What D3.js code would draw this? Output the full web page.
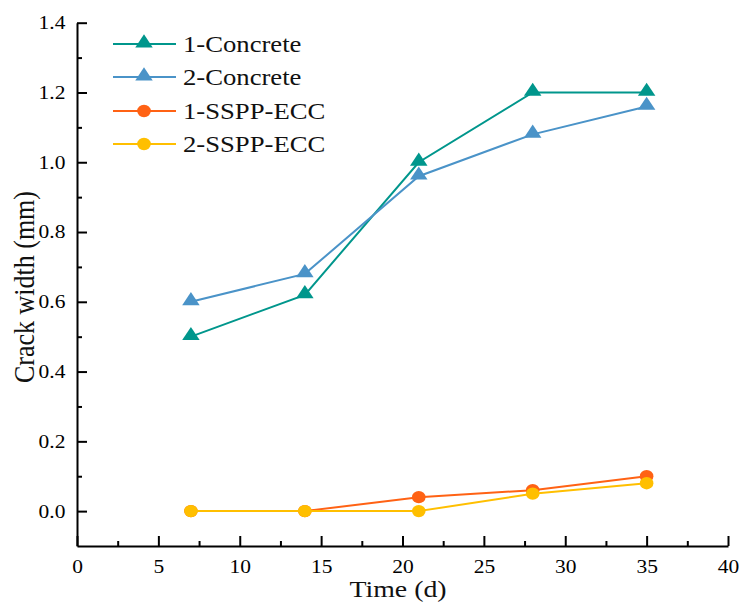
<!DOCTYPE html>
<html>
<head>
<meta charset="utf-8">
<script src="https://cdn.jsdelivr.net/npm/d3@7"></script>
<style>
  body { margin: 0; background: #fff; }
  text { font-family: "Liberation Serif", "Times New Roman", serif; fill: #000; }
</style>
</head>
<body>
<figure id="chart" style="margin:0"></figure>
<script>
// data
const days = [7, 14, 21, 28, 35];
const concrete1 = [0.5, 0.62, 1.0, 1.2, 1.2];
const concrete2 = [0.6, 0.68, 0.96, 1.08, 1.16];
const ecc1 = [0, 0, 0.04, 0.06, 0.1];
const ecc2 = [0, 0, 0, 0.05, 0.08];
const seriesNames = ["1-Concrete", "2-Concrete", "1-SSPP-ECC", "2-SSPP-ECC"];
const seriesColors = ["#00968c", "#4a93c8", "#ff6214", "#ffbf00"];
const seriesShapes = ["triangle", "triangle", "circle", "circle"];
const xTicks = [0, 5, 10, 15, 20, 25, 30, 35, 40];
const yTicks = [0, 0.2, 0.4, 0.6, 0.8, 1.0, 1.2, 1.4];

const W = 739, H = 606;
const plotLeft = 77, plotRight = 728, plotTop = 22.7, plotBottom = 546;
const sx = 1.16; // glyphs in the picture are a bit wide

const svg = d3.select("figure#chart")
  .append("svg")
  .attr("width", W)
  .attr("height", H);

const x = d3.scaleLinear().domain([0, 40]).range([plotLeft, plotRight]);
const y = d3.scaleLinear().domain([-0.1, 1.4]).range([plotBottom, plotTop]);

// minor ticks
svg.append("g")
  .attr("transform", "translate(0," + plotBottom + ")")
  .call(d3.axisBottom(x).tickValues(d3.range(2.5, 40, 5)).tickSize(-5).tickFormat(""))
  .call(g => g.select(".domain").remove());
svg.append("g")
  .attr("transform", "translate(" + plotLeft + ",0)")
  .call(d3.axisLeft(y).tickValues(d3.range(1, 14, 2).map(d => d / 10)).tickSize(-5).tickFormat(""))
  .call(g => g.select(".domain").remove());

// major ticks
const xAxis = svg.append("g")
  .attr("transform", "translate(0," + plotBottom + ")")
  .call(d3.axisBottom(x).tickValues(xTicks).tickSize(-10).tickSizeOuter(0).tickPadding(14).tickFormat(d3.format("d")));
const yAxis = svg.append("g")
  .attr("transform", "translate(" + plotLeft + ",0)")
  .call(d3.axisLeft(y).tickValues(yTicks).tickSize(-10).tickSizeOuter(0).tickPadding(10).tickFormat(d3.format(".1f")));

svg.selectAll(".domain, .tick line").attr("stroke", "#000").attr("stroke-width", 2);
svg.selectAll(".tick text")
  .style("font-size", "18.5px")
  .attr("fill", "#111")
  .style("font-family", "'Liberation Serif', serif");
xAxis.selectAll(".tick text").attr("transform", "scale(" + sx + ",1)");
yAxis.selectAll(".tick text").attr("transform", "scale(" + sx + ",1)");

// axis titles
svg.append("text")
  .attr("text-anchor", "middle")
  .attr("transform", "translate(398,597) scale(" + sx + ",1)")
  .style("font-size", "24px")
  .style("fill", "#111")
  .text("Time (d)");

svg.append("text")
  .attr("text-anchor", "middle")
  .attr("transform", "translate(34,287) rotate(-90) scale(1," + sx + ")")
  .style("font-size", "26px")
  .style("fill", "#111")
  .text("Crack width (mm)");

// lines
const allSeries = [concrete1, concrete2, ecc1, ecc2];
const line = d3.line().x((d, i) => x(days[i])).y(d => y(d));
const tri = d3.symbol().type(d3.symbolTriangle).size(100);

// orange under yellow, concrete on top
const order = [2, 3, 0, 1];
order.forEach(k => {
  const vals = allSeries[k];
  const g = svg.append("g");
  g.append("path")
    .attr("d", line(vals))
    .attr("fill", "none")
    .attr("stroke", seriesColors[k])
    .attr("stroke-width", 2);
  if (seriesShapes[k] === "triangle") {
    g.selectAll("path.m")
      .data(vals)
      .join("path")
      .attr("class", "m")
      .attr("d", tri)
      .attr("transform", (d, i) => "translate(" + x(days[i]) + "," + (y(d) - 1) + ") scale(1.15,1)")
      .attr("fill", seriesColors[k]);
  } else {
    g.selectAll("ellipse")
      .data(vals)
      .join("ellipse")
      .attr("cx", (d, i) => x(days[i]))
      .attr("cy", d => y(d))
      .attr("rx", 6.8)
      .attr("ry", 6.2)
      .attr("fill", seriesColors[k]);
  }
});

// legend
const legend = svg.append("g");
const rowY = [44, 77, 111, 144];
seriesNames.forEach((name, k) => {
  const ly = rowY[k];
  legend.append("line")
    .attr("x1", 113).attr("x2", 176)
    .attr("y1", ly).attr("y2", ly)
    .attr("stroke", seriesColors[k])
    .attr("stroke-width", 2);
  if (seriesShapes[k] === "triangle") {
    legend.append("path")
      .attr("d", tri)
      .attr("transform", "translate(144," + (ly - 1) + ") scale(1.15,1)")
      .attr("fill", seriesColors[k]);
  } else {
    legend.append("ellipse")
      .attr("cx", 144).attr("cy", ly)
      .attr("rx", 6.8).attr("ry", 6.2)
      .attr("fill", seriesColors[k]);
  }
  legend.append("text")
    .attr("transform", "translate(183," + (ly + 8) + ") scale(" + sx + ",1)")
    .style("font-size", "23px")
    .style("fill", "#111")
    .text(name);
});
</script>
</body>
</html>
